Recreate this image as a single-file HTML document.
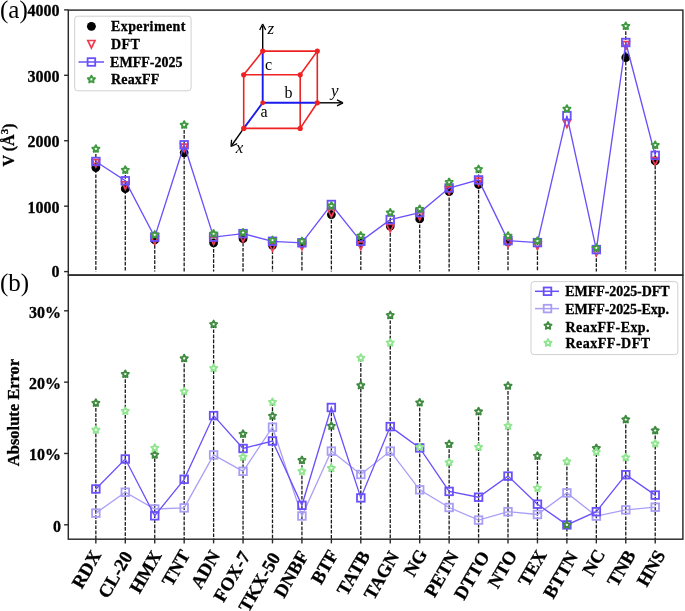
<!DOCTYPE html>
<html><head><meta charset="utf-8"><style>
html,body{margin:0;padding:0;background:#fff;width:685px;height:611px;overflow:hidden}
svg{filter:blur(0.3px)}
</style></head><body>
<svg width="685" height="611" viewBox="0 0 685 611" style="display:block">
<rect width="685" height="611" fill="#fff"/>
<line x1="95.85" y1="148.90" x2="95.85" y2="271.6" stroke="#1a1a1a" stroke-width="1.3" stroke-dasharray="3.7,1.4"/>
<line x1="125.29" y1="170.00" x2="125.29" y2="271.6" stroke="#1a1a1a" stroke-width="1.3" stroke-dasharray="3.7,1.4"/>
<line x1="154.73" y1="234.80" x2="154.73" y2="271.6" stroke="#1a1a1a" stroke-width="1.3" stroke-dasharray="3.7,1.4"/>
<line x1="184.17" y1="124.90" x2="184.17" y2="271.6" stroke="#1a1a1a" stroke-width="1.3" stroke-dasharray="3.7,1.4"/>
<line x1="213.61" y1="233.70" x2="213.61" y2="271.6" stroke="#1a1a1a" stroke-width="1.3" stroke-dasharray="3.7,1.4"/>
<line x1="243.05" y1="232.60" x2="243.05" y2="271.6" stroke="#1a1a1a" stroke-width="1.3" stroke-dasharray="3.7,1.4"/>
<line x1="272.49" y1="240.20" x2="272.49" y2="271.6" stroke="#1a1a1a" stroke-width="1.3" stroke-dasharray="3.7,1.4"/>
<line x1="301.93" y1="241.30" x2="301.93" y2="271.6" stroke="#1a1a1a" stroke-width="1.3" stroke-dasharray="3.7,1.4"/>
<line x1="331.37" y1="204.50" x2="331.37" y2="271.6" stroke="#1a1a1a" stroke-width="1.3" stroke-dasharray="3.7,1.4"/>
<line x1="360.81" y1="235.80" x2="360.81" y2="271.6" stroke="#1a1a1a" stroke-width="1.3" stroke-dasharray="3.7,1.4"/>
<line x1="390.25" y1="212.60" x2="390.25" y2="271.6" stroke="#1a1a1a" stroke-width="1.3" stroke-dasharray="3.7,1.4"/>
<line x1="419.69" y1="209.10" x2="419.69" y2="271.6" stroke="#1a1a1a" stroke-width="1.3" stroke-dasharray="3.7,1.4"/>
<line x1="449.13" y1="182.20" x2="449.13" y2="271.6" stroke="#1a1a1a" stroke-width="1.3" stroke-dasharray="3.7,1.4"/>
<line x1="478.57" y1="169.30" x2="478.57" y2="271.6" stroke="#1a1a1a" stroke-width="1.3" stroke-dasharray="3.7,1.4"/>
<line x1="508.01" y1="235.90" x2="508.01" y2="271.6" stroke="#1a1a1a" stroke-width="1.3" stroke-dasharray="3.7,1.4"/>
<line x1="537.45" y1="241.00" x2="537.45" y2="271.6" stroke="#1a1a1a" stroke-width="1.3" stroke-dasharray="3.7,1.4"/>
<line x1="596.33" y1="248.00" x2="596.33" y2="271.6" stroke="#1a1a1a" stroke-width="1.3" stroke-dasharray="3.7,1.4"/>
<line x1="625.77" y1="26.10" x2="625.77" y2="271.6" stroke="#1a1a1a" stroke-width="1.3" stroke-dasharray="3.7,1.4"/>
<line x1="655.21" y1="145.10" x2="655.21" y2="271.6" stroke="#1a1a1a" stroke-width="1.3" stroke-dasharray="3.7,1.4"/>
<circle cx="95.85" cy="167.60" r="4.4" fill="#000"/>
<circle cx="125.29" cy="188.70" r="4.4" fill="#000"/>
<circle cx="154.73" cy="240.00" r="4.4" fill="#000"/>
<circle cx="184.17" cy="152.80" r="4.4" fill="#000"/>
<circle cx="213.61" cy="242.80" r="4.4" fill="#000"/>
<circle cx="243.05" cy="238.70" r="4.4" fill="#000"/>
<circle cx="272.49" cy="245.30" r="4.4" fill="#000"/>
<circle cx="301.93" cy="243.50" r="4.4" fill="#000"/>
<circle cx="331.37" cy="214.60" r="4.4" fill="#000"/>
<circle cx="360.81" cy="242.40" r="4.4" fill="#000"/>
<circle cx="390.25" cy="226.10" r="4.4" fill="#000"/>
<circle cx="419.69" cy="218.90" r="4.4" fill="#000"/>
<circle cx="449.13" cy="191.60" r="4.4" fill="#000"/>
<circle cx="478.57" cy="184.50" r="4.4" fill="#000"/>
<circle cx="508.01" cy="241.80" r="4.4" fill="#000"/>
<circle cx="625.77" cy="57.60" r="4.4" fill="#000"/>
<circle cx="655.21" cy="161.00" r="4.4" fill="#000"/>
<path d="M92.25,159.58 L99.45,159.58 L95.85,167.14 Z" fill="none" stroke="#f03a50" stroke-width="1.7" stroke-linejoin="miter"/>
<path d="M121.69,181.78 L128.89,181.78 L125.29,189.34 Z" fill="none" stroke="#f03a50" stroke-width="1.7" stroke-linejoin="miter"/>
<path d="M151.13,236.58 L158.33,236.58 L154.73,244.14 Z" fill="none" stroke="#f03a50" stroke-width="1.7" stroke-linejoin="miter"/>
<path d="M180.57,144.18 L187.77,144.18 L184.17,151.74 Z" fill="none" stroke="#f03a50" stroke-width="1.7" stroke-linejoin="miter"/>
<path d="M210.01,237.08 L217.21,237.08 L213.61,244.64 Z" fill="none" stroke="#f03a50" stroke-width="1.7" stroke-linejoin="miter"/>
<path d="M239.45,234.58 L246.65,234.58 L243.05,242.14 Z" fill="none" stroke="#f03a50" stroke-width="1.7" stroke-linejoin="miter"/>
<path d="M268.89,243.38 L276.09,243.38 L272.49,250.94 Z" fill="none" stroke="#f03a50" stroke-width="1.7" stroke-linejoin="miter"/>
<path d="M298.33,242.28 L305.53,242.28 L301.93,249.84 Z" fill="none" stroke="#f03a50" stroke-width="1.7" stroke-linejoin="miter"/>
<path d="M327.77,209.38 L334.97,209.38 L331.37,216.94 Z" fill="none" stroke="#f03a50" stroke-width="1.7" stroke-linejoin="miter"/>
<path d="M357.21,241.88 L364.41,241.88 L360.81,249.44 Z" fill="none" stroke="#f03a50" stroke-width="1.7" stroke-linejoin="miter"/>
<path d="M386.65,224.28 L393.85,224.28 L390.25,231.84 Z" fill="none" stroke="#f03a50" stroke-width="1.7" stroke-linejoin="miter"/>
<path d="M416.09,212.58 L423.29,212.58 L419.69,220.14 Z" fill="none" stroke="#f03a50" stroke-width="1.7" stroke-linejoin="miter"/>
<path d="M445.53,186.78 L452.73,186.78 L449.13,194.34 Z" fill="none" stroke="#f03a50" stroke-width="1.7" stroke-linejoin="miter"/>
<path d="M474.97,178.08 L482.17,178.08 L478.57,185.64 Z" fill="none" stroke="#f03a50" stroke-width="1.7" stroke-linejoin="miter"/>
<path d="M504.41,239.48 L511.61,239.48 L508.01,247.04 Z" fill="none" stroke="#f03a50" stroke-width="1.7" stroke-linejoin="miter"/>
<path d="M533.85,241.88 L541.05,241.88 L537.45,249.44 Z" fill="none" stroke="#f03a50" stroke-width="1.7" stroke-linejoin="miter"/>
<path d="M563.29,119.98 L570.49,119.98 L566.89,127.54 Z" fill="none" stroke="#f03a50" stroke-width="1.7" stroke-linejoin="miter"/>
<path d="M592.73,248.18 L599.93,248.18 L596.33,255.74 Z" fill="none" stroke="#f03a50" stroke-width="1.7" stroke-linejoin="miter"/>
<path d="M622.17,41.58 L629.37,41.58 L625.77,49.14 Z" fill="none" stroke="#f03a50" stroke-width="1.7" stroke-linejoin="miter"/>
<path d="M651.61,157.58 L658.81,157.58 L655.21,165.14 Z" fill="none" stroke="#f03a50" stroke-width="1.7" stroke-linejoin="miter"/>
<polyline points="95.85,161.50 125.29,180.80 154.73,237.10 184.17,144.80 213.61,237.10 243.05,233.60 272.49,241.30 301.93,242.80 331.37,204.50 360.81,241.30 390.25,219.60 419.69,212.60 449.13,188.00 478.57,179.90 508.01,240.60 537.45,242.60 566.89,115.60 596.33,249.60 625.77,42.50 655.21,155.40" fill="none" stroke="#6a50fa" stroke-width="1.35"/>
<rect x="92.05" y="157.70" width="7.6" height="7.6" fill="none" stroke="#6a50fa" stroke-width="1.8"/>
<rect x="121.49" y="177.00" width="7.6" height="7.6" fill="none" stroke="#6a50fa" stroke-width="1.8"/>
<rect x="150.93" y="233.30" width="7.6" height="7.6" fill="none" stroke="#6a50fa" stroke-width="1.8"/>
<rect x="180.37" y="141.00" width="7.6" height="7.6" fill="none" stroke="#6a50fa" stroke-width="1.8"/>
<rect x="209.81" y="233.30" width="7.6" height="7.6" fill="none" stroke="#6a50fa" stroke-width="1.8"/>
<rect x="239.25" y="229.80" width="7.6" height="7.6" fill="none" stroke="#6a50fa" stroke-width="1.8"/>
<rect x="268.69" y="237.50" width="7.6" height="7.6" fill="none" stroke="#6a50fa" stroke-width="1.8"/>
<rect x="298.13" y="239.00" width="7.6" height="7.6" fill="none" stroke="#6a50fa" stroke-width="1.8"/>
<rect x="327.57" y="200.70" width="7.6" height="7.6" fill="none" stroke="#6a50fa" stroke-width="1.8"/>
<rect x="357.01" y="237.50" width="7.6" height="7.6" fill="none" stroke="#6a50fa" stroke-width="1.8"/>
<rect x="386.45" y="215.80" width="7.6" height="7.6" fill="none" stroke="#6a50fa" stroke-width="1.8"/>
<rect x="415.89" y="208.80" width="7.6" height="7.6" fill="none" stroke="#6a50fa" stroke-width="1.8"/>
<rect x="445.33" y="184.20" width="7.6" height="7.6" fill="none" stroke="#6a50fa" stroke-width="1.8"/>
<rect x="474.77" y="176.10" width="7.6" height="7.6" fill="none" stroke="#6a50fa" stroke-width="1.8"/>
<rect x="504.21" y="236.80" width="7.6" height="7.6" fill="none" stroke="#6a50fa" stroke-width="1.8"/>
<rect x="533.65" y="238.80" width="7.6" height="7.6" fill="none" stroke="#6a50fa" stroke-width="1.8"/>
<rect x="563.09" y="111.80" width="7.6" height="7.6" fill="none" stroke="#6a50fa" stroke-width="1.8"/>
<rect x="592.53" y="245.80" width="7.6" height="7.6" fill="none" stroke="#6a50fa" stroke-width="1.8"/>
<rect x="621.97" y="38.70" width="7.6" height="7.6" fill="none" stroke="#6a50fa" stroke-width="1.8"/>
<rect x="651.41" y="151.60" width="7.6" height="7.6" fill="none" stroke="#6a50fa" stroke-width="1.8"/>
<path d="M95.85,145.20 L96.94,147.40 L99.37,147.76 L97.61,149.47 L98.02,151.89 L95.85,150.75 L93.68,151.89 L94.09,149.47 L92.33,147.76 L94.76,147.40 Z" fill="#fff" stroke="#3f9a3f" stroke-width="1.95" stroke-linejoin="round"/>
<path d="M125.29,166.30 L126.38,168.50 L128.81,168.86 L127.05,170.57 L127.46,172.99 L125.29,171.85 L123.12,172.99 L123.53,170.57 L121.77,168.86 L124.20,168.50 Z" fill="#fff" stroke="#3f9a3f" stroke-width="1.95" stroke-linejoin="round"/>
<path d="M154.73,231.10 L155.82,233.30 L158.25,233.66 L156.49,235.37 L156.90,237.79 L154.73,236.65 L152.56,237.79 L152.97,235.37 L151.21,233.66 L153.64,233.30 Z" fill="#fff" stroke="#3f9a3f" stroke-width="1.95" stroke-linejoin="round"/>
<path d="M184.17,121.20 L185.26,123.40 L187.69,123.76 L185.93,125.47 L186.34,127.89 L184.17,126.75 L182.00,127.89 L182.41,125.47 L180.65,123.76 L183.08,123.40 Z" fill="#fff" stroke="#3f9a3f" stroke-width="1.95" stroke-linejoin="round"/>
<path d="M213.61,230.00 L214.70,232.20 L217.13,232.56 L215.37,234.27 L215.78,236.69 L213.61,235.55 L211.44,236.69 L211.85,234.27 L210.09,232.56 L212.52,232.20 Z" fill="#fff" stroke="#3f9a3f" stroke-width="1.95" stroke-linejoin="round"/>
<path d="M243.05,228.90 L244.14,231.10 L246.57,231.46 L244.81,233.17 L245.22,235.59 L243.05,234.45 L240.88,235.59 L241.29,233.17 L239.53,231.46 L241.96,231.10 Z" fill="#fff" stroke="#3f9a3f" stroke-width="1.95" stroke-linejoin="round"/>
<path d="M272.49,236.50 L273.58,238.70 L276.01,239.06 L274.25,240.77 L274.66,243.19 L272.49,242.05 L270.32,243.19 L270.73,240.77 L268.97,239.06 L271.40,238.70 Z" fill="#fff" stroke="#3f9a3f" stroke-width="1.95" stroke-linejoin="round"/>
<path d="M301.93,237.60 L303.02,239.80 L305.45,240.16 L303.69,241.87 L304.10,244.29 L301.93,243.15 L299.76,244.29 L300.17,241.87 L298.41,240.16 L300.84,239.80 Z" fill="#fff" stroke="#3f9a3f" stroke-width="1.95" stroke-linejoin="round"/>
<path d="M331.37,202.10 L332.46,204.30 L334.89,204.66 L333.13,206.37 L333.54,208.79 L331.37,207.65 L329.20,208.79 L329.61,206.37 L327.85,204.66 L330.28,204.30 Z" fill="#fff" stroke="#3f9a3f" stroke-width="1.95" stroke-linejoin="round"/>
<path d="M360.81,232.10 L361.90,234.30 L364.33,234.66 L362.57,236.37 L362.98,238.79 L360.81,237.65 L358.64,238.79 L359.05,236.37 L357.29,234.66 L359.72,234.30 Z" fill="#fff" stroke="#3f9a3f" stroke-width="1.95" stroke-linejoin="round"/>
<path d="M390.25,208.90 L391.34,211.10 L393.77,211.46 L392.01,213.17 L392.42,215.59 L390.25,214.45 L388.08,215.59 L388.49,213.17 L386.73,211.46 L389.16,211.10 Z" fill="#fff" stroke="#3f9a3f" stroke-width="1.95" stroke-linejoin="round"/>
<path d="M419.69,205.40 L420.78,207.60 L423.21,207.96 L421.45,209.67 L421.86,212.09 L419.69,210.95 L417.52,212.09 L417.93,209.67 L416.17,207.96 L418.60,207.60 Z" fill="#fff" stroke="#3f9a3f" stroke-width="1.95" stroke-linejoin="round"/>
<path d="M449.13,178.50 L450.22,180.70 L452.65,181.06 L450.89,182.77 L451.30,185.19 L449.13,184.05 L446.96,185.19 L447.37,182.77 L445.61,181.06 L448.04,180.70 Z" fill="#fff" stroke="#3f9a3f" stroke-width="1.95" stroke-linejoin="round"/>
<path d="M478.57,165.60 L479.66,167.80 L482.09,168.16 L480.33,169.87 L480.74,172.29 L478.57,171.15 L476.40,172.29 L476.81,169.87 L475.05,168.16 L477.48,167.80 Z" fill="#fff" stroke="#3f9a3f" stroke-width="1.95" stroke-linejoin="round"/>
<path d="M508.01,232.20 L509.10,234.40 L511.53,234.76 L509.77,236.47 L510.18,238.89 L508.01,237.75 L505.84,238.89 L506.25,236.47 L504.49,234.76 L506.92,234.40 Z" fill="#fff" stroke="#3f9a3f" stroke-width="1.95" stroke-linejoin="round"/>
<path d="M537.45,237.30 L538.54,239.50 L540.97,239.86 L539.21,241.57 L539.62,243.99 L537.45,242.85 L535.28,243.99 L535.69,241.57 L533.93,239.86 L536.36,239.50 Z" fill="#fff" stroke="#3f9a3f" stroke-width="1.95" stroke-linejoin="round"/>
<path d="M566.89,105.20 L567.98,107.40 L570.41,107.76 L568.65,109.47 L569.06,111.89 L566.89,110.75 L564.72,111.89 L565.13,109.47 L563.37,107.76 L565.80,107.40 Z" fill="#fff" stroke="#3f9a3f" stroke-width="1.95" stroke-linejoin="round"/>
<path d="M596.33,244.30 L597.42,246.50 L599.85,246.86 L598.09,248.57 L598.50,250.99 L596.33,249.85 L594.16,250.99 L594.57,248.57 L592.81,246.86 L595.24,246.50 Z" fill="#fff" stroke="#3f9a3f" stroke-width="1.95" stroke-linejoin="round"/>
<path d="M625.77,22.40 L626.86,24.60 L629.29,24.96 L627.53,26.67 L627.94,29.09 L625.77,27.95 L623.60,29.09 L624.01,26.67 L622.25,24.96 L624.68,24.60 Z" fill="#fff" stroke="#3f9a3f" stroke-width="1.95" stroke-linejoin="round"/>
<path d="M655.21,141.40 L656.30,143.60 L658.73,143.96 L656.97,145.67 L657.38,148.09 L655.21,146.95 L653.04,148.09 L653.45,145.67 L651.69,143.96 L654.12,143.60 Z" fill="#fff" stroke="#3f9a3f" stroke-width="1.95" stroke-linejoin="round"/>
<line x1="95.85" y1="403.00" x2="95.85" y2="539.2" stroke="#1a1a1a" stroke-width="1.3" stroke-dasharray="3.7,1.4"/>
<line x1="125.29" y1="374.10" x2="125.29" y2="539.2" stroke="#1a1a1a" stroke-width="1.3" stroke-dasharray="3.7,1.4"/>
<line x1="154.73" y1="448.00" x2="154.73" y2="539.2" stroke="#1a1a1a" stroke-width="1.3" stroke-dasharray="3.7,1.4"/>
<line x1="184.17" y1="358.40" x2="184.17" y2="539.2" stroke="#1a1a1a" stroke-width="1.3" stroke-dasharray="3.7,1.4"/>
<line x1="213.61" y1="324.30" x2="213.61" y2="539.2" stroke="#1a1a1a" stroke-width="1.3" stroke-dasharray="3.7,1.4"/>
<line x1="243.05" y1="434.00" x2="243.05" y2="539.2" stroke="#1a1a1a" stroke-width="1.3" stroke-dasharray="3.7,1.4"/>
<line x1="272.49" y1="402.10" x2="272.49" y2="539.2" stroke="#1a1a1a" stroke-width="1.3" stroke-dasharray="3.7,1.4"/>
<line x1="301.93" y1="460.20" x2="301.93" y2="539.2" stroke="#1a1a1a" stroke-width="1.3" stroke-dasharray="3.7,1.4"/>
<line x1="331.37" y1="407.50" x2="331.37" y2="539.2" stroke="#1a1a1a" stroke-width="1.3" stroke-dasharray="3.7,1.4"/>
<line x1="360.81" y1="357.90" x2="360.81" y2="539.2" stroke="#1a1a1a" stroke-width="1.3" stroke-dasharray="3.7,1.4"/>
<line x1="390.25" y1="315.30" x2="390.25" y2="539.2" stroke="#1a1a1a" stroke-width="1.3" stroke-dasharray="3.7,1.4"/>
<line x1="419.69" y1="402.60" x2="419.69" y2="539.2" stroke="#1a1a1a" stroke-width="1.3" stroke-dasharray="3.7,1.4"/>
<line x1="449.13" y1="444.10" x2="449.13" y2="539.2" stroke="#1a1a1a" stroke-width="1.3" stroke-dasharray="3.7,1.4"/>
<line x1="478.57" y1="411.50" x2="478.57" y2="539.2" stroke="#1a1a1a" stroke-width="1.3" stroke-dasharray="3.7,1.4"/>
<line x1="508.01" y1="385.90" x2="508.01" y2="539.2" stroke="#1a1a1a" stroke-width="1.3" stroke-dasharray="3.7,1.4"/>
<line x1="537.45" y1="456.00" x2="537.45" y2="539.2" stroke="#1a1a1a" stroke-width="1.3" stroke-dasharray="3.7,1.4"/>
<line x1="566.89" y1="461.50" x2="566.89" y2="539.2" stroke="#1a1a1a" stroke-width="1.3" stroke-dasharray="3.7,1.4"/>
<line x1="596.33" y1="448.20" x2="596.33" y2="539.2" stroke="#1a1a1a" stroke-width="1.3" stroke-dasharray="3.7,1.4"/>
<line x1="625.77" y1="419.50" x2="625.77" y2="539.2" stroke="#1a1a1a" stroke-width="1.3" stroke-dasharray="3.7,1.4"/>
<line x1="655.21" y1="430.50" x2="655.21" y2="539.2" stroke="#1a1a1a" stroke-width="1.3" stroke-dasharray="3.7,1.4"/>
<polyline points="95.85,513.10 125.29,492.20 154.73,509.00 184.17,507.90 213.61,454.90 243.05,471.30 272.49,427.20 301.93,516.00 331.37,451.10 360.81,474.50 390.25,451.10 419.69,489.80 449.13,507.50 478.57,520.10 508.01,511.70 537.45,514.50 566.89,492.90 596.33,516.10 625.77,509.90 655.21,507.20" fill="none" stroke="#a99ef6" stroke-width="1.3"/>
<rect x="92.05" y="509.30" width="7.6" height="7.6" fill="none" stroke="#a99ef6" stroke-width="1.8"/>
<rect x="121.49" y="488.40" width="7.6" height="7.6" fill="none" stroke="#a99ef6" stroke-width="1.8"/>
<rect x="150.93" y="505.20" width="7.6" height="7.6" fill="none" stroke="#a99ef6" stroke-width="1.8"/>
<rect x="180.37" y="504.10" width="7.6" height="7.6" fill="none" stroke="#a99ef6" stroke-width="1.8"/>
<rect x="209.81" y="451.10" width="7.6" height="7.6" fill="none" stroke="#a99ef6" stroke-width="1.8"/>
<rect x="239.25" y="467.50" width="7.6" height="7.6" fill="none" stroke="#a99ef6" stroke-width="1.8"/>
<rect x="268.69" y="423.40" width="7.6" height="7.6" fill="none" stroke="#a99ef6" stroke-width="1.8"/>
<rect x="298.13" y="512.20" width="7.6" height="7.6" fill="none" stroke="#a99ef6" stroke-width="1.8"/>
<rect x="327.57" y="447.30" width="7.6" height="7.6" fill="none" stroke="#a99ef6" stroke-width="1.8"/>
<rect x="357.01" y="470.70" width="7.6" height="7.6" fill="none" stroke="#a99ef6" stroke-width="1.8"/>
<rect x="386.45" y="447.30" width="7.6" height="7.6" fill="none" stroke="#a99ef6" stroke-width="1.8"/>
<rect x="415.89" y="486.00" width="7.6" height="7.6" fill="none" stroke="#a99ef6" stroke-width="1.8"/>
<rect x="445.33" y="503.70" width="7.6" height="7.6" fill="none" stroke="#a99ef6" stroke-width="1.8"/>
<rect x="474.77" y="516.30" width="7.6" height="7.6" fill="none" stroke="#a99ef6" stroke-width="1.8"/>
<rect x="504.21" y="507.90" width="7.6" height="7.6" fill="none" stroke="#a99ef6" stroke-width="1.8"/>
<rect x="533.65" y="510.70" width="7.6" height="7.6" fill="none" stroke="#a99ef6" stroke-width="1.8"/>
<rect x="563.09" y="489.10" width="7.6" height="7.6" fill="none" stroke="#a99ef6" stroke-width="1.8"/>
<rect x="592.53" y="512.30" width="7.6" height="7.6" fill="none" stroke="#a99ef6" stroke-width="1.8"/>
<rect x="621.97" y="506.10" width="7.6" height="7.6" fill="none" stroke="#a99ef6" stroke-width="1.8"/>
<rect x="651.41" y="503.40" width="7.6" height="7.6" fill="none" stroke="#a99ef6" stroke-width="1.8"/>
<polyline points="95.85,489.00 125.29,459.00 154.73,515.80 184.17,479.30 213.61,415.60 243.05,448.50 272.49,441.00 301.93,505.30 331.37,407.50 360.81,497.90 390.25,426.60 419.69,447.90 449.13,491.40 478.57,497.20 508.01,476.10 537.45,504.20 566.89,524.90 596.33,511.70 625.77,474.70 655.21,495.10" fill="none" stroke="#6a50fa" stroke-width="1.3"/>
<rect x="92.05" y="485.20" width="7.6" height="7.6" fill="none" stroke="#6a50fa" stroke-width="1.8"/>
<rect x="121.49" y="455.20" width="7.6" height="7.6" fill="none" stroke="#6a50fa" stroke-width="1.8"/>
<rect x="150.93" y="512.00" width="7.6" height="7.6" fill="none" stroke="#6a50fa" stroke-width="1.8"/>
<rect x="180.37" y="475.50" width="7.6" height="7.6" fill="none" stroke="#6a50fa" stroke-width="1.8"/>
<rect x="209.81" y="411.80" width="7.6" height="7.6" fill="none" stroke="#6a50fa" stroke-width="1.8"/>
<rect x="239.25" y="444.70" width="7.6" height="7.6" fill="none" stroke="#6a50fa" stroke-width="1.8"/>
<rect x="268.69" y="437.20" width="7.6" height="7.6" fill="none" stroke="#6a50fa" stroke-width="1.8"/>
<rect x="298.13" y="501.50" width="7.6" height="7.6" fill="none" stroke="#6a50fa" stroke-width="1.8"/>
<rect x="327.57" y="403.70" width="7.6" height="7.6" fill="none" stroke="#6a50fa" stroke-width="1.8"/>
<rect x="357.01" y="494.10" width="7.6" height="7.6" fill="none" stroke="#6a50fa" stroke-width="1.8"/>
<rect x="386.45" y="422.80" width="7.6" height="7.6" fill="none" stroke="#6a50fa" stroke-width="1.8"/>
<rect x="415.89" y="444.10" width="7.6" height="7.6" fill="none" stroke="#6a50fa" stroke-width="1.8"/>
<rect x="445.33" y="487.60" width="7.6" height="7.6" fill="none" stroke="#6a50fa" stroke-width="1.8"/>
<rect x="474.77" y="493.40" width="7.6" height="7.6" fill="none" stroke="#6a50fa" stroke-width="1.8"/>
<rect x="504.21" y="472.30" width="7.6" height="7.6" fill="none" stroke="#6a50fa" stroke-width="1.8"/>
<rect x="533.65" y="500.40" width="7.6" height="7.6" fill="none" stroke="#6a50fa" stroke-width="1.8"/>
<rect x="563.09" y="521.10" width="7.6" height="7.6" fill="none" stroke="#6a50fa" stroke-width="1.8"/>
<rect x="592.53" y="507.90" width="7.6" height="7.6" fill="none" stroke="#6a50fa" stroke-width="1.8"/>
<rect x="621.97" y="470.90" width="7.6" height="7.6" fill="none" stroke="#6a50fa" stroke-width="1.8"/>
<rect x="651.41" y="491.30" width="7.6" height="7.6" fill="none" stroke="#6a50fa" stroke-width="1.8"/>
<path d="M95.85,399.30 L96.94,401.50 L99.37,401.86 L97.61,403.57 L98.02,405.99 L95.85,404.85 L93.68,405.99 L94.09,403.57 L92.33,401.86 L94.76,401.50 Z" fill="#fff" stroke="#3e8a3e" stroke-width="1.95" stroke-linejoin="round"/>
<path d="M125.29,370.40 L126.38,372.60 L128.81,372.96 L127.05,374.67 L127.46,377.09 L125.29,375.95 L123.12,377.09 L123.53,374.67 L121.77,372.96 L124.20,372.60 Z" fill="#fff" stroke="#3e8a3e" stroke-width="1.95" stroke-linejoin="round"/>
<path d="M154.73,451.10 L155.82,453.30 L158.25,453.66 L156.49,455.37 L156.90,457.79 L154.73,456.65 L152.56,457.79 L152.97,455.37 L151.21,453.66 L153.64,453.30 Z" fill="#fff" stroke="#3e8a3e" stroke-width="1.95" stroke-linejoin="round"/>
<path d="M184.17,354.70 L185.26,356.90 L187.69,357.26 L185.93,358.97 L186.34,361.39 L184.17,360.25 L182.00,361.39 L182.41,358.97 L180.65,357.26 L183.08,356.90 Z" fill="#fff" stroke="#3e8a3e" stroke-width="1.95" stroke-linejoin="round"/>
<path d="M213.61,320.60 L214.70,322.80 L217.13,323.16 L215.37,324.87 L215.78,327.29 L213.61,326.15 L211.44,327.29 L211.85,324.87 L210.09,323.16 L212.52,322.80 Z" fill="#fff" stroke="#3e8a3e" stroke-width="1.95" stroke-linejoin="round"/>
<path d="M243.05,430.30 L244.14,432.50 L246.57,432.86 L244.81,434.57 L245.22,436.99 L243.05,435.85 L240.88,436.99 L241.29,434.57 L239.53,432.86 L241.96,432.50 Z" fill="#fff" stroke="#3e8a3e" stroke-width="1.95" stroke-linejoin="round"/>
<path d="M272.49,412.30 L273.58,414.50 L276.01,414.86 L274.25,416.57 L274.66,418.99 L272.49,417.85 L270.32,418.99 L270.73,416.57 L268.97,414.86 L271.40,414.50 Z" fill="#fff" stroke="#3e8a3e" stroke-width="1.95" stroke-linejoin="round"/>
<path d="M301.93,456.50 L303.02,458.70 L305.45,459.06 L303.69,460.77 L304.10,463.19 L301.93,462.05 L299.76,463.19 L300.17,460.77 L298.41,459.06 L300.84,458.70 Z" fill="#fff" stroke="#3e8a3e" stroke-width="1.95" stroke-linejoin="round"/>
<path d="M331.37,422.30 L332.46,424.50 L334.89,424.86 L333.13,426.57 L333.54,428.99 L331.37,427.85 L329.20,428.99 L329.61,426.57 L327.85,424.86 L330.28,424.50 Z" fill="#fff" stroke="#3e8a3e" stroke-width="1.95" stroke-linejoin="round"/>
<path d="M360.81,381.70 L361.90,383.90 L364.33,384.26 L362.57,385.97 L362.98,388.39 L360.81,387.25 L358.64,388.39 L359.05,385.97 L357.29,384.26 L359.72,383.90 Z" fill="#fff" stroke="#3e8a3e" stroke-width="1.95" stroke-linejoin="round"/>
<path d="M390.25,311.60 L391.34,313.80 L393.77,314.16 L392.01,315.87 L392.42,318.29 L390.25,317.15 L388.08,318.29 L388.49,315.87 L386.73,314.16 L389.16,313.80 Z" fill="#fff" stroke="#3e8a3e" stroke-width="1.95" stroke-linejoin="round"/>
<path d="M419.69,398.90 L420.78,401.10 L423.21,401.46 L421.45,403.17 L421.86,405.59 L419.69,404.45 L417.52,405.59 L417.93,403.17 L416.17,401.46 L418.60,401.10 Z" fill="#fff" stroke="#3e8a3e" stroke-width="1.95" stroke-linejoin="round"/>
<path d="M449.13,440.40 L450.22,442.60 L452.65,442.96 L450.89,444.67 L451.30,447.09 L449.13,445.95 L446.96,447.09 L447.37,444.67 L445.61,442.96 L448.04,442.60 Z" fill="#fff" stroke="#3e8a3e" stroke-width="1.95" stroke-linejoin="round"/>
<path d="M478.57,407.80 L479.66,410.00 L482.09,410.36 L480.33,412.07 L480.74,414.49 L478.57,413.35 L476.40,414.49 L476.81,412.07 L475.05,410.36 L477.48,410.00 Z" fill="#fff" stroke="#3e8a3e" stroke-width="1.95" stroke-linejoin="round"/>
<path d="M508.01,382.20 L509.10,384.40 L511.53,384.76 L509.77,386.47 L510.18,388.89 L508.01,387.75 L505.84,388.89 L506.25,386.47 L504.49,384.76 L506.92,384.40 Z" fill="#fff" stroke="#3e8a3e" stroke-width="1.95" stroke-linejoin="round"/>
<path d="M537.45,452.30 L538.54,454.50 L540.97,454.86 L539.21,456.57 L539.62,458.99 L537.45,457.85 L535.28,458.99 L535.69,456.57 L533.93,454.86 L536.36,454.50 Z" fill="#fff" stroke="#3e8a3e" stroke-width="1.95" stroke-linejoin="round"/>
<path d="M566.89,521.20 L567.98,523.40 L570.41,523.76 L568.65,525.47 L569.06,527.89 L566.89,526.75 L564.72,527.89 L565.13,525.47 L563.37,523.76 L565.80,523.40 Z" fill="#fff" stroke="#3e8a3e" stroke-width="1.95" stroke-linejoin="round"/>
<path d="M596.33,444.50 L597.42,446.70 L599.85,447.06 L598.09,448.77 L598.50,451.19 L596.33,450.05 L594.16,451.19 L594.57,448.77 L592.81,447.06 L595.24,446.70 Z" fill="#fff" stroke="#3e8a3e" stroke-width="1.95" stroke-linejoin="round"/>
<path d="M625.77,415.80 L626.86,418.00 L629.29,418.36 L627.53,420.07 L627.94,422.49 L625.77,421.35 L623.60,422.49 L624.01,420.07 L622.25,418.36 L624.68,418.00 Z" fill="#fff" stroke="#3e8a3e" stroke-width="1.95" stroke-linejoin="round"/>
<path d="M655.21,426.80 L656.30,429.00 L658.73,429.36 L656.97,431.07 L657.38,433.49 L655.21,432.35 L653.04,433.49 L653.45,431.07 L651.69,429.36 L654.12,429.00 Z" fill="#fff" stroke="#3e8a3e" stroke-width="1.95" stroke-linejoin="round"/>
<path d="M95.85,426.20 L96.94,428.40 L99.37,428.76 L97.61,430.47 L98.02,432.89 L95.85,431.75 L93.68,432.89 L94.09,430.47 L92.33,428.76 L94.76,428.40 Z" fill="#fff" stroke="#8fe68f" stroke-width="1.95" stroke-linejoin="round"/>
<path d="M125.29,407.40 L126.38,409.60 L128.81,409.96 L127.05,411.67 L127.46,414.09 L125.29,412.95 L123.12,414.09 L123.53,411.67 L121.77,409.96 L124.20,409.60 Z" fill="#fff" stroke="#8fe68f" stroke-width="1.95" stroke-linejoin="round"/>
<path d="M154.73,444.30 L155.82,446.50 L158.25,446.86 L156.49,448.57 L156.90,450.99 L154.73,449.85 L152.56,450.99 L152.97,448.57 L151.21,446.86 L153.64,446.50 Z" fill="#fff" stroke="#8fe68f" stroke-width="1.95" stroke-linejoin="round"/>
<path d="M184.17,387.80 L185.26,390.00 L187.69,390.36 L185.93,392.07 L186.34,394.49 L184.17,393.35 L182.00,394.49 L182.41,392.07 L180.65,390.36 L183.08,390.00 Z" fill="#fff" stroke="#8fe68f" stroke-width="1.95" stroke-linejoin="round"/>
<path d="M213.61,364.50 L214.70,366.70 L217.13,367.06 L215.37,368.77 L215.78,371.19 L213.61,370.05 L211.44,371.19 L211.85,368.77 L210.09,367.06 L212.52,366.70 Z" fill="#fff" stroke="#8fe68f" stroke-width="1.95" stroke-linejoin="round"/>
<path d="M243.05,453.30 L244.14,455.50 L246.57,455.86 L244.81,457.57 L245.22,459.99 L243.05,458.85 L240.88,459.99 L241.29,457.57 L239.53,455.86 L241.96,455.50 Z" fill="#fff" stroke="#8fe68f" stroke-width="1.95" stroke-linejoin="round"/>
<path d="M272.49,398.40 L273.58,400.60 L276.01,400.96 L274.25,402.67 L274.66,405.09 L272.49,403.95 L270.32,405.09 L270.73,402.67 L268.97,400.96 L271.40,400.60 Z" fill="#fff" stroke="#8fe68f" stroke-width="1.95" stroke-linejoin="round"/>
<path d="M301.93,467.60 L303.02,469.80 L305.45,470.16 L303.69,471.87 L304.10,474.29 L301.93,473.15 L299.76,474.29 L300.17,471.87 L298.41,470.16 L300.84,469.80 Z" fill="#fff" stroke="#8fe68f" stroke-width="1.95" stroke-linejoin="round"/>
<path d="M331.37,464.40 L332.46,466.60 L334.89,466.96 L333.13,468.67 L333.54,471.09 L331.37,469.95 L329.20,471.09 L329.61,468.67 L327.85,466.96 L330.28,466.60 Z" fill="#fff" stroke="#8fe68f" stroke-width="1.95" stroke-linejoin="round"/>
<path d="M360.81,354.20 L361.90,356.40 L364.33,356.76 L362.57,358.47 L362.98,360.89 L360.81,359.75 L358.64,360.89 L359.05,358.47 L357.29,356.76 L359.72,356.40 Z" fill="#fff" stroke="#8fe68f" stroke-width="1.95" stroke-linejoin="round"/>
<path d="M390.25,339.10 L391.34,341.30 L393.77,341.66 L392.01,343.37 L392.42,345.79 L390.25,344.65 L388.08,345.79 L388.49,343.37 L386.73,341.66 L389.16,341.30 Z" fill="#fff" stroke="#8fe68f" stroke-width="1.95" stroke-linejoin="round"/>
<path d="M419.69,443.50 L420.78,445.70 L423.21,446.06 L421.45,447.77 L421.86,450.19 L419.69,449.05 L417.52,450.19 L417.93,447.77 L416.17,446.06 L418.60,445.70 Z" fill="#fff" stroke="#8fe68f" stroke-width="1.95" stroke-linejoin="round"/>
<path d="M449.13,458.70 L450.22,460.90 L452.65,461.26 L450.89,462.97 L451.30,465.39 L449.13,464.25 L446.96,465.39 L447.37,462.97 L445.61,461.26 L448.04,460.90 Z" fill="#fff" stroke="#8fe68f" stroke-width="1.95" stroke-linejoin="round"/>
<path d="M478.57,443.40 L479.66,445.60 L482.09,445.96 L480.33,447.67 L480.74,450.09 L478.57,448.95 L476.40,450.09 L476.81,447.67 L475.05,445.96 L477.48,445.60 Z" fill="#fff" stroke="#8fe68f" stroke-width="1.95" stroke-linejoin="round"/>
<path d="M508.01,422.30 L509.10,424.50 L511.53,424.86 L509.77,426.57 L510.18,428.99 L508.01,427.85 L505.84,428.99 L506.25,426.57 L504.49,424.86 L506.92,424.50 Z" fill="#fff" stroke="#8fe68f" stroke-width="1.95" stroke-linejoin="round"/>
<path d="M537.45,484.40 L538.54,486.60 L540.97,486.96 L539.21,488.67 L539.62,491.09 L537.45,489.95 L535.28,491.09 L535.69,488.67 L533.93,486.96 L536.36,486.60 Z" fill="#fff" stroke="#8fe68f" stroke-width="1.95" stroke-linejoin="round"/>
<path d="M566.89,457.80 L567.98,460.00 L570.41,460.36 L568.65,462.07 L569.06,464.49 L566.89,463.35 L564.72,464.49 L565.13,462.07 L563.37,460.36 L565.80,460.00 Z" fill="#fff" stroke="#8fe68f" stroke-width="1.95" stroke-linejoin="round"/>
<path d="M596.33,448.30 L597.42,450.50 L599.85,450.86 L598.09,452.57 L598.50,454.99 L596.33,453.85 L594.16,454.99 L594.57,452.57 L592.81,450.86 L595.24,450.50 Z" fill="#fff" stroke="#8fe68f" stroke-width="1.95" stroke-linejoin="round"/>
<path d="M625.77,453.80 L626.86,456.00 L629.29,456.36 L627.53,458.07 L627.94,460.49 L625.77,459.35 L623.60,460.49 L624.01,458.07 L622.25,456.36 L624.68,456.00 Z" fill="#fff" stroke="#8fe68f" stroke-width="1.95" stroke-linejoin="round"/>
<path d="M655.21,439.90 L656.30,442.10 L658.73,442.46 L656.97,444.17 L657.38,446.59 L655.21,445.45 L653.04,446.59 L653.45,444.17 L651.69,442.46 L654.12,442.10 Z" fill="#fff" stroke="#8fe68f" stroke-width="1.95" stroke-linejoin="round"/>
<rect x="68.3" y="10.1" width="614.6" height="265.0" fill="none" stroke="#2a2a2a" stroke-width="1.45"/>
<rect x="68.3" y="275.1" width="614.6" height="264.1" fill="none" stroke="#2a2a2a" stroke-width="1.45"/>
<line x1="64.1" y1="271.60" x2="68.3" y2="271.60" stroke="#2a2a2a" stroke-width="1.4"/>
<text x="59.5" y="277.10" text-anchor="end" font-family="'Liberation Serif', serif" font-weight="bold" stroke="#000" stroke-width="0.3" font-size="16">0</text>
<line x1="64.1" y1="206.17" x2="68.3" y2="206.17" stroke="#2a2a2a" stroke-width="1.4"/>
<text x="59.5" y="212.57" text-anchor="end" font-family="'Liberation Serif', serif" font-weight="bold" stroke="#000" stroke-width="0.3" font-size="16">1000</text>
<line x1="64.1" y1="140.74" x2="68.3" y2="140.74" stroke="#2a2a2a" stroke-width="1.4"/>
<text x="59.5" y="146.64" text-anchor="end" font-family="'Liberation Serif', serif" font-weight="bold" stroke="#000" stroke-width="0.3" font-size="16">2000</text>
<line x1="64.1" y1="75.31" x2="68.3" y2="75.31" stroke="#2a2a2a" stroke-width="1.4"/>
<text x="59.5" y="82.01" text-anchor="end" font-family="'Liberation Serif', serif" font-weight="bold" stroke="#000" stroke-width="0.3" font-size="16">3000</text>
<line x1="64.1" y1="9.88" x2="68.3" y2="9.88" stroke="#2a2a2a" stroke-width="1.4"/>
<text x="59.5" y="16.38" text-anchor="end" font-family="'Liberation Serif', serif" font-weight="bold" stroke="#000" stroke-width="0.3" font-size="16">4000</text>
<line x1="64.1" y1="524.80" x2="68.3" y2="524.80" stroke="#2a2a2a" stroke-width="1.4"/>
<text x="61" y="531.50" text-anchor="end" font-family="'Liberation Serif', serif" font-weight="bold" stroke="#000" stroke-width="0.3" font-size="16">0</text>
<line x1="64.1" y1="453.47" x2="68.3" y2="453.47" stroke="#2a2a2a" stroke-width="1.4"/>
<text x="61" y="460.17" text-anchor="end" font-family="'Liberation Serif', serif" font-weight="bold" stroke="#000" stroke-width="0.3" font-size="16">10%</text>
<line x1="64.1" y1="382.14" x2="68.3" y2="382.14" stroke="#2a2a2a" stroke-width="1.4"/>
<text x="61" y="388.84" text-anchor="end" font-family="'Liberation Serif', serif" font-weight="bold" stroke="#000" stroke-width="0.3" font-size="16">20%</text>
<line x1="64.1" y1="310.81" x2="68.3" y2="310.81" stroke="#2a2a2a" stroke-width="1.4"/>
<text x="61" y="317.51" text-anchor="end" font-family="'Liberation Serif', serif" font-weight="bold" stroke="#000" stroke-width="0.3" font-size="16">30%</text>
<line x1="95.85" y1="539.2" x2="95.85" y2="543.4000000000001" stroke="#2a2a2a" stroke-width="1.4"/>
<text transform="translate(101.78,555.00) rotate(-60)" text-anchor="end" font-family="'Liberation Serif', serif" font-weight="bold" stroke="#000" stroke-width="0.3" font-size="18.5">RDX</text>
<line x1="125.29" y1="539.2" x2="125.29" y2="543.4000000000001" stroke="#2a2a2a" stroke-width="1.4"/>
<text transform="translate(133.08,555.95) rotate(-60)" text-anchor="end" font-family="'Liberation Serif', serif" font-weight="bold" stroke="#000" stroke-width="0.3" font-size="18.5">CL-20</text>
<line x1="154.73" y1="539.2" x2="154.73" y2="543.4000000000001" stroke="#2a2a2a" stroke-width="1.4"/>
<text transform="translate(162.14,555.23) rotate(-60)" text-anchor="end" font-family="'Liberation Serif', serif" font-weight="bold" stroke="#000" stroke-width="0.3" font-size="18.5">HMX</text>
<line x1="184.17" y1="539.2" x2="184.17" y2="543.4000000000001" stroke="#2a2a2a" stroke-width="1.4"/>
<text transform="translate(190.79,554.53) rotate(-60)" text-anchor="end" font-family="'Liberation Serif', serif" font-weight="bold" stroke="#000" stroke-width="0.3" font-size="18.5">TNT</text>
<line x1="213.61" y1="539.2" x2="213.61" y2="543.4000000000001" stroke="#2a2a2a" stroke-width="1.4"/>
<text transform="translate(220.71,555.26) rotate(-60)" text-anchor="end" font-family="'Liberation Serif', serif" font-weight="bold" stroke="#000" stroke-width="0.3" font-size="18.5">ADN</text>
<line x1="243.05" y1="539.2" x2="243.05" y2="543.4000000000001" stroke="#2a2a2a" stroke-width="1.4"/>
<text transform="translate(250.79,555.98) rotate(-60)" text-anchor="end" font-family="'Liberation Serif', serif" font-weight="bold" stroke="#000" stroke-width="0.3" font-size="18.5">FOX-7</text>
<line x1="272.49" y1="539.2" x2="272.49" y2="543.4000000000001" stroke="#2a2a2a" stroke-width="1.4"/>
<text transform="translate(280.88,557.14) rotate(-60)" text-anchor="end" font-family="'Liberation Serif', serif" font-weight="bold" stroke="#000" stroke-width="0.3" font-size="18.5">TKX-50</text>
<line x1="301.93" y1="539.2" x2="301.93" y2="543.4000000000001" stroke="#2a2a2a" stroke-width="1.4"/>
<text transform="translate(309.08,555.45) rotate(-60)" text-anchor="end" font-family="'Liberation Serif', serif" font-weight="bold" stroke="#000" stroke-width="0.3" font-size="18.5">DNBF</text>
<line x1="331.37" y1="539.2" x2="331.37" y2="543.4000000000001" stroke="#2a2a2a" stroke-width="1.4"/>
<text transform="translate(338.89,554.35) rotate(-60)" text-anchor="end" font-family="'Liberation Serif', serif" font-weight="bold" stroke="#000" stroke-width="0.3" font-size="18.5">BTF</text>
<line x1="360.81" y1="539.2" x2="360.81" y2="543.4000000000001" stroke="#2a2a2a" stroke-width="1.4"/>
<text transform="translate(370.60,555.49) rotate(-60)" text-anchor="end" font-family="'Liberation Serif', serif" font-weight="bold" stroke="#000" stroke-width="0.3" font-size="18.5">TATB</text>
<line x1="390.25" y1="539.2" x2="390.25" y2="543.4000000000001" stroke="#2a2a2a" stroke-width="1.4"/>
<text transform="translate(399.72,556.02) rotate(-60)" text-anchor="end" font-family="'Liberation Serif', serif" font-weight="bold" stroke="#000" stroke-width="0.3" font-size="18.5">TAGN</text>
<line x1="419.69" y1="539.2" x2="419.69" y2="543.4000000000001" stroke="#2a2a2a" stroke-width="1.4"/>
<text transform="translate(427.59,553.80) rotate(-60)" text-anchor="end" font-family="'Liberation Serif', serif" font-weight="bold" stroke="#000" stroke-width="0.3" font-size="18.5">NG</text>
<line x1="449.13" y1="539.2" x2="449.13" y2="543.4000000000001" stroke="#2a2a2a" stroke-width="1.4"/>
<text transform="translate(459.29,555.76) rotate(-60)" text-anchor="end" font-family="'Liberation Serif', serif" font-weight="bold" stroke="#000" stroke-width="0.3" font-size="18.5">PETN</text>
<line x1="478.57" y1="539.2" x2="478.57" y2="543.4000000000001" stroke="#2a2a2a" stroke-width="1.4"/>
<text transform="translate(490.09,555.88) rotate(-60)" text-anchor="end" font-family="'Liberation Serif', serif" font-weight="bold" stroke="#000" stroke-width="0.3" font-size="18.5">DTTO</text>
<line x1="508.01" y1="539.2" x2="508.01" y2="543.4000000000001" stroke="#2a2a2a" stroke-width="1.4"/>
<text transform="translate(517.59,555.06) rotate(-60)" text-anchor="end" font-family="'Liberation Serif', serif" font-weight="bold" stroke="#000" stroke-width="0.3" font-size="18.5">NTO</text>
<line x1="537.45" y1="539.2" x2="537.45" y2="543.4000000000001" stroke="#2a2a2a" stroke-width="1.4"/>
<text transform="translate(547.06,554.59) rotate(-60)" text-anchor="end" font-family="'Liberation Serif', serif" font-weight="bold" stroke="#000" stroke-width="0.3" font-size="18.5">TEX</text>
<line x1="566.89" y1="539.2" x2="566.89" y2="543.4000000000001" stroke="#2a2a2a" stroke-width="1.4"/>
<text transform="translate(578.52,556.12) rotate(-60)" text-anchor="end" font-family="'Liberation Serif', serif" font-weight="bold" stroke="#000" stroke-width="0.3" font-size="18.5">BTTN</text>
<line x1="596.33" y1="539.2" x2="596.33" y2="543.4000000000001" stroke="#2a2a2a" stroke-width="1.4"/>
<text transform="translate(605.65,553.96) rotate(-60)" text-anchor="end" font-family="'Liberation Serif', serif" font-weight="bold" stroke="#000" stroke-width="0.3" font-size="18.5">NC</text>
<line x1="625.77" y1="539.2" x2="625.77" y2="543.4000000000001" stroke="#2a2a2a" stroke-width="1.4"/>
<text transform="translate(636.13,554.78) rotate(-60)" text-anchor="end" font-family="'Liberation Serif', serif" font-weight="bold" stroke="#000" stroke-width="0.3" font-size="18.5">TNB</text>
<line x1="655.21" y1="539.2" x2="655.21" y2="543.4000000000001" stroke="#2a2a2a" stroke-width="1.4"/>
<text transform="translate(665.84,554.85) rotate(-60)" text-anchor="end" font-family="'Liberation Serif', serif" font-weight="bold" stroke="#000" stroke-width="0.3" font-size="18.5">HNS</text>
<text transform="translate(14.0,145) rotate(-90)" text-anchor="middle" font-family="'Liberation Serif', serif" font-weight="bold" stroke="#000" stroke-width="0.3" font-size="16">V (Å<tspan font-size="11" dy="-6">3</tspan><tspan dy="6">)</tspan></text>
<text transform="translate(19,412.5) rotate(-90)" text-anchor="middle" font-family="'Liberation Serif', serif" font-weight="bold" stroke="#000" stroke-width="0.3" font-size="16.5">Absolute Error</text>
<text x="0" y="17.5" font-family="'Liberation Serif', serif" font-size="25">(a)</text>
<text x="0" y="291.3" font-family="'Liberation Serif', serif" font-size="25">(b)</text>
<rect x="74.7" y="16.2" width="116.4" height="74.6" rx="3" ry="3" fill="#fff" fill-opacity="0.8" stroke="#d0d0d0" stroke-width="1"/>
<circle cx="91.40" cy="26.35" r="4.45" fill="#000"/>
<path d="M87.80,40.48 L95.00,40.48 L91.40,48.04 Z" fill="none" stroke="#f03a50" stroke-width="1.7" stroke-linejoin="miter"/>
<line x1="78.5" y1="62" x2="104" y2="62" stroke="#6a50fa" stroke-width="1.5"/>
<rect x="87.60" y="58.20" width="7.6" height="7.6" fill="none" stroke="#6a50fa" stroke-width="1.8"/>
<path d="M91.40,75.70 L92.49,77.90 L94.92,78.26 L93.16,79.97 L93.57,82.39 L91.40,81.25 L89.23,82.39 L89.64,79.97 L87.88,78.26 L90.31,77.90 Z" fill="#fff" stroke="#3f9a3f" stroke-width="1.95" stroke-linejoin="round"/>
<text x="111" y="31.10" textLength="74.5" lengthAdjust="spacing" font-family="'Liberation Serif', serif" font-weight="bold" stroke="#000" stroke-width="0.3" font-size="14">Experiment</text>
<text x="111" y="48.80" textLength="28.9" lengthAdjust="spacing" font-family="'Liberation Serif', serif" font-weight="bold" stroke="#000" stroke-width="0.3" font-size="14">DFT</text>
<text x="110.1" y="66.90" textLength="72.3" lengthAdjust="spacing" font-family="'Liberation Serif', serif" font-weight="bold" stroke="#000" stroke-width="0.3" font-size="14">EMFF-2025</text>
<text x="111" y="84.30" textLength="48.3" lengthAdjust="spacing" font-family="'Liberation Serif', serif" font-weight="bold" stroke="#000" stroke-width="0.3" font-size="14">ReaxFF</text>
<rect x="531" y="281.6" width="146.8" height="73" rx="3" ry="3" fill="#fff" fill-opacity="0.8" stroke="#d0d0d0" stroke-width="1"/>
<line x1="535" y1="291.3" x2="559" y2="291.3" stroke="#6a50fa" stroke-width="1.5"/>
<rect x="543.70" y="287.50" width="7.6" height="7.6" fill="none" stroke="#6a50fa" stroke-width="1.8"/>
<line x1="535" y1="308.6" x2="559" y2="308.6" stroke="#a99ef6" stroke-width="1.5"/>
<rect x="543.70" y="304.80" width="7.6" height="7.6" fill="none" stroke="#a99ef6" stroke-width="1.8"/>
<path d="M548.00,322.10 L549.09,324.30 L551.52,324.66 L549.76,326.37 L550.17,328.79 L548.00,327.65 L545.83,328.79 L546.24,326.37 L544.48,324.66 L546.91,324.30 Z" fill="#fff" stroke="#3e8a3e" stroke-width="1.95" stroke-linejoin="round"/>
<path d="M548.00,339.20 L549.09,341.40 L551.52,341.76 L549.76,343.47 L550.17,345.89 L548.00,344.75 L545.83,345.89 L546.24,343.47 L544.48,341.76 L546.91,341.40 Z" fill="#fff" stroke="#8fe68f" stroke-width="1.95" stroke-linejoin="round"/>
<text x="565.3" y="296.20" textLength="104.3" lengthAdjust="spacing" font-family="'Liberation Serif', serif" font-weight="bold" stroke="#000" stroke-width="0.3" font-size="14">EMFF-2025-DFT</text>
<text x="565.3" y="313.50" textLength="103.6" lengthAdjust="spacing" font-family="'Liberation Serif', serif" font-weight="bold" stroke="#000" stroke-width="0.3" font-size="14">EMFF-2025-Exp.</text>
<text x="565.5" y="331.70" textLength="84.1" lengthAdjust="spacing" font-family="'Liberation Serif', serif" font-weight="bold" stroke="#000" stroke-width="0.3" font-size="14">ReaxFF-Exp.</text>
<text x="565.5" y="348.20" textLength="84.6" lengthAdjust="spacing" font-family="'Liberation Serif', serif" font-weight="bold" stroke="#000" stroke-width="0.3" font-size="14">ReaxFF-DFT</text>
<line x1="262.7" y1="51.1" x2="317.3" y2="51.1" stroke="#ee2222" stroke-width="1.6"/>
<line x1="243.7" y1="74.8" x2="300.2" y2="74.8" stroke="#ee2222" stroke-width="1.6"/>
<line x1="262.7" y1="51.1" x2="243.7" y2="74.8" stroke="#ee2222" stroke-width="1.6"/>
<line x1="317.3" y1="51.1" x2="300.2" y2="74.8" stroke="#ee2222" stroke-width="1.6"/>
<line x1="243.7" y1="74.8" x2="243.7" y2="128.4" stroke="#ee2222" stroke-width="1.6"/>
<line x1="300.2" y1="74.8" x2="300.2" y2="128.4" stroke="#ee2222" stroke-width="1.6"/>
<line x1="317.3" y1="51.1" x2="317.3" y2="102.8" stroke="#ee2222" stroke-width="1.6"/>
<line x1="243.7" y1="128.4" x2="300.2" y2="128.4" stroke="#ee2222" stroke-width="1.6"/>
<line x1="317.3" y1="102.8" x2="300.2" y2="128.4" stroke="#ee2222" stroke-width="1.6"/>
<line x1="262.7" y1="102.8" x2="262.7" y2="51.1" stroke="#1a1aee" stroke-width="1.9"/>
<line x1="262.7" y1="102.8" x2="317.3" y2="102.8" stroke="#1a1aee" stroke-width="1.9"/>
<line x1="262.7" y1="102.8" x2="243.7" y2="128.4" stroke="#1a1aee" stroke-width="1.9"/>
<line x1="262.7" y1="51.1" x2="262.7" y2="26" stroke="#000" stroke-width="1.4"/>
<path d="M262.7,24 L259.7,30 M262.7,24 L265.7,30" stroke="#000" stroke-width="1.3" fill="none"/>
<line x1="317.3" y1="102.8" x2="341" y2="102.8" stroke="#000" stroke-width="1.4"/>
<path d="M343,102.8 L337,99.8 M343,102.8 L337,105.8" stroke="#000" stroke-width="1.3" fill="none"/>
<line x1="243.7" y1="128.4" x2="232" y2="145" stroke="#000" stroke-width="1.4"/>
<path d="M231,146.5 L231.6,139.8 M231,146.5 L237.2,143.6" stroke="#000" stroke-width="1.3" fill="none"/>
<circle cx="262.7" cy="51.1" r="2.6" fill="#ee2222"/>
<circle cx="317.3" cy="51.1" r="2.6" fill="#ee2222"/>
<circle cx="243.7" cy="74.8" r="2.6" fill="#ee2222"/>
<circle cx="300.2" cy="74.8" r="2.6" fill="#ee2222"/>
<circle cx="317.3" cy="102.8" r="2.6" fill="#ee2222"/>
<circle cx="243.7" cy="128.4" r="2.6" fill="#ee2222"/>
<circle cx="300.2" cy="128.4" r="2.6" fill="#ee2222"/>
<circle cx="262.7" cy="102.8" r="2.4" fill="#ee2222"/>
<text x="267.6" y="34.3" font-family="'Liberation Serif', serif" font-style="italic" font-size="17">z</text>
<text x="331" y="95.8" font-family="'Liberation Serif', serif" font-style="italic" font-size="17">y</text>
<text x="235.8" y="153.4" font-family="'Liberation Serif', serif" font-style="italic" font-size="17">x</text>
<text x="265" y="69.8" font-family="'Liberation Serif', serif" font-size="16">c</text>
<text x="284.6" y="97.8" font-family="'Liberation Serif', serif" font-size="16">b</text>
<text x="260.4" y="117.2" font-family="'Liberation Serif', serif" font-size="16">a</text>
</svg>
</body></html>
